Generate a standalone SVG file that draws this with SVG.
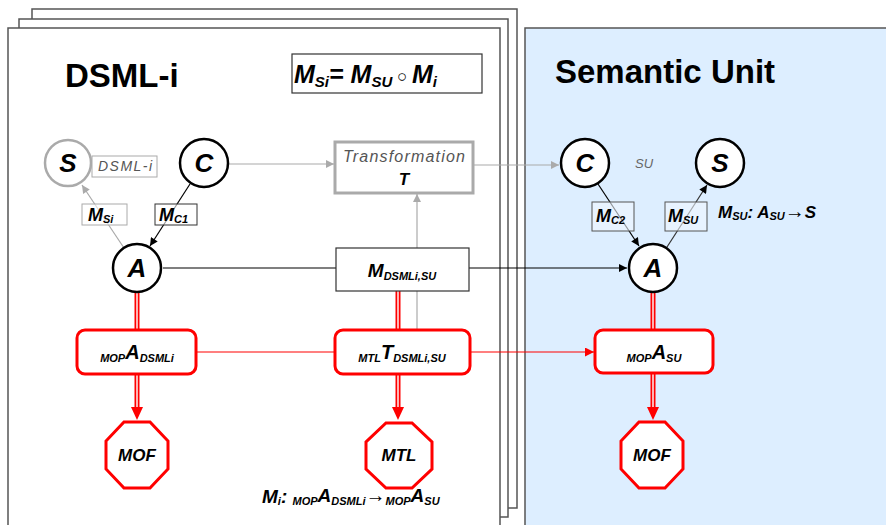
<svg xmlns="http://www.w3.org/2000/svg" width="886" height="525" viewBox="0 0 886 525">
<style>
text{font-family:"Liberation Sans",Arial,sans-serif;}
.bi{font-weight:bold;font-style:italic;fill:#000;}
.it{font-style:italic;}
.title{font-size:33px;font-weight:bold;fill:#000;}
.page{fill:#fff;stroke:#555;stroke-width:1.5;}
.circ{fill:#fff;stroke:#000;stroke-width:2.5;}
.circg{fill:#fff;stroke:#aaa;stroke-width:2.5;}
.lbl{fill:#fff;stroke:#333;stroke-width:1;fill-opacity:0.6;}
.lblg{fill:#fff;stroke:#aaa;stroke-width:1;fill-opacity:0.6;}
.lblb{fill:#f0f7ff;stroke:#555;stroke-width:1;fill-opacity:0.6;}
.rbox{fill:#fff;stroke:#f00;stroke-width:3;}
.oct{fill:#fff;stroke:#f00;stroke-width:3;}
.lk{stroke:#000;stroke-width:1.2;fill:none;}
.lg{stroke:#aaa;stroke-width:1.2;fill:none;}
.lr{stroke:#f00;stroke-width:1.2;fill:none;}
.dr{stroke:#f00;stroke-width:5;fill:none;}
.dw{stroke:#fff;stroke-width:1.4;fill:none;}
</style>
<defs>
<marker id="ak" viewBox="0 0 10 10" refX="10" refY="5" markerWidth="9" markerHeight="8" markerUnits="userSpaceOnUse" orient="auto"><path d="M0,0 L10,5 L0,10 z" fill="#000"/></marker>
<marker id="ag" viewBox="0 0 10 10" refX="10" refY="5" markerWidth="9" markerHeight="8" markerUnits="userSpaceOnUse" orient="auto"><path d="M0,0 L10,5 L0,10 z" fill="#aaa"/></marker>
<marker id="ar" viewBox="0 0 10 10" refX="10" refY="5" markerWidth="10" markerHeight="9" markerUnits="userSpaceOnUse" orient="auto"><path d="M0,0 L10,5 L0,10 z" fill="#f00"/></marker>
</defs>

<g id="background">
<rect class="page" x="32" y="9" width="485" height="499"/>
<rect class="page" x="19" y="19" width="489" height="498"/>
<rect class="page" x="8" y="28" width="492" height="510" stroke="#888"/>
<rect x="525" y="28" width="370" height="510" fill="#ddeeff" stroke="#555" stroke-width="1.5"/>
<text class="title" x="65" y="87">DSML-i</text>
<text class="title" x="555" y="83">Semantic Unit</text>
</g>

<g id="formula">
<rect x="292" y="54" width="190" height="39" fill="#fff" stroke="#333" stroke-width="1.2"/>
<text class="bi" x="294" y="83" font-size="25">M<tspan font-size="15" dy="4">Si</tspan><tspan dy="-4">= M</tspan><tspan font-size="15" dy="4">SU</tspan><tspan dy="-5" font-size="17" font-weight="normal" font-style="normal"> ○ </tspan><tspan dy="1">M</tspan><tspan font-size="15" dy="4">i</tspan></text>
</g>

<g id="connectors">
<line class="lg" x1="228" y1="164" x2="334" y2="164" marker-end="url(#ag)"/>
<line class="lg" x1="473" y1="165" x2="559" y2="165" marker-end="url(#ag)"/>
<line class="lg" x1="417" y1="330" x2="417" y2="194" marker-end="url(#ag)"/>
<line class="lg" x1="124" y1="248" x2="82" y2="185" marker-end="url(#ag)"/>
<line class="lk" x1="190" y1="184" x2="150" y2="246" marker-end="url(#ak)"/>
<line class="lk" x1="598" y1="184" x2="639" y2="246" marker-end="url(#ak)"/>
<line x1="667" y1="247" x2="707" y2="185" stroke="#333" stroke-width="1.2" marker-end="url(#ak)"/>
<line class="lk" x1="163" y1="268" x2="336" y2="268"/>
<line class="lk" x1="469" y1="268" x2="627" y2="268" marker-end="url(#ak)"/>
<line class="lr" x1="196" y1="352" x2="335" y2="352"/>
<line class="lr" x1="470" y1="352" x2="594" y2="352" marker-end="url(#ar)"/>
<line class="dr" x1="137" y1="293" x2="137" y2="330"/><line class="dw" x1="137" y1="293" x2="137" y2="330"/>
<line class="dr" x1="398" y1="291" x2="398" y2="330"/><line class="dw" x1="398" y1="291" x2="398" y2="330"/>
<line class="dr" x1="653" y1="293" x2="653" y2="330"/><line class="dw" x1="653" y1="293" x2="653" y2="330"/>
<line class="dr" x1="137" y1="374" x2="137" y2="408"/><line class="dw" x1="137" y1="374" x2="137" y2="408"/>
<polygon points="131,407 143,407 137,420" fill="#f00"/>
<line class="dr" x1="398" y1="374" x2="398" y2="408"/><line class="dw" x1="398" y1="374" x2="398" y2="408"/>
<polygon points="392,407 404,407 398,420" fill="#f00"/>
<line class="dr" x1="653" y1="373" x2="653" y2="408"/><line class="dw" x1="653" y1="373" x2="653" y2="408"/>
<polygon points="647,407 659,407 653,420" fill="#f00"/>
</g>

<g id="S-dsml">
<circle class="circg" cx="68" cy="163" r="23"/>
<text class="bi" x="68" y="172" font-size="26" text-anchor="middle">S</text>
</g>
<g id="label-dsml">
<rect x="92" y="156" width="65" height="21" fill="#fff" stroke="#aaa" stroke-width="1"/>
<text class="it" x="98" y="171" font-size="14" fill="#555" textLength="54">DSML-i</text>
</g>
<g id="C-dsml">
<circle class="circ" cx="204" cy="163" r="24"/>
<text class="bi" x="204" y="172" font-size="26" text-anchor="middle">C</text>
</g>
<g id="M-Si">
<rect class="lblg" x="82" y="204" width="45" height="21"/>
<text class="bi" x="88" y="221" font-size="18">M<tspan font-size="11" dy="2">Si</tspan></text>
</g>
<g id="M-C1">
<rect class="lbl" x="155" y="204" width="42" height="21"/>
<text class="bi" x="159" y="221" font-size="18">M<tspan font-size="11" dy="2">C1</tspan></text>
</g>
<g id="A-dsml">
<circle class="circ" cx="137" cy="268" r="24"/>
<text class="bi" x="137" y="277" font-size="26" text-anchor="middle">A</text>
</g>
<g id="transformation">
<rect x="335" y="142" width="138" height="51" fill="#fff" stroke="#aaa" stroke-width="3"/>
<text class="it" x="343" y="162" font-size="16" fill="#555" textLength="122">Transformation</text>
<text class="bi" x="404" y="185" font-size="17" text-anchor="middle">T</text>
</g>
<g id="M-DSMLi-SU">
<rect x="336" y="248" width="133" height="43" fill="#fff" stroke="#333" stroke-width="1.2"/>
<text class="bi" x="402" y="277" font-size="19" text-anchor="middle">M<tspan font-size="11" dy="3">DSMLi,SU</tspan></text>
</g>
<g id="C-su">
<circle class="circ" cx="585" cy="163" r="24"/>
<text class="bi" x="585" y="172" font-size="26" text-anchor="middle">C</text>
</g>
<text class="it" x="635" y="168" font-size="13" fill="#666">SU</text>
<g id="S-su">
<circle class="circ" cx="720" cy="163" r="24"/>
<text class="bi" x="720" y="172" font-size="26" text-anchor="middle">S</text>
</g>
<g id="M-C2">
<rect class="lblb" x="592" y="202" width="42" height="29"/>
<text class="bi" x="596" y="222" font-size="18">M<tspan font-size="11" dy="2">C2</tspan></text>
</g>
<g id="M-SU">
<rect class="lblb" x="665" y="202" width="42" height="29"/>
<text class="bi" x="668" y="222" font-size="18">M<tspan font-size="11" dy="2">SU</tspan></text>
</g>
<text class="bi" x="718" y="218" font-size="17">M<tspan font-size="11" dy="2">SU</tspan><tspan dy="-2">: A</tspan><tspan font-size="11" dy="2">SU</tspan><tspan dy="-2" font-size="20" font-weight="normal">→</tspan>S</text>
<g id="A-su">
<circle class="circ" cx="653" cy="268" r="24"/>
<text class="bi" x="653" y="277" font-size="26" text-anchor="middle">A</text>
</g>

<g id="MOP-A-DSMLi">
<rect class="rbox" x="77" y="330" width="119" height="44" rx="8"/>
<text class="bi" x="137" y="362" text-anchor="middle"><tspan font-size="11">MOP</tspan><tspan font-size="20" dy="-3">A</tspan><tspan font-size="11" dy="3">DSMLi</tspan></text>
</g>
<g id="MTL-T">
<rect class="rbox" x="335" y="330" width="135" height="44" rx="8"/>
<text class="bi" x="402" y="362" text-anchor="middle"><tspan font-size="11">MTL</tspan><tspan font-size="20" dy="-3">T</tspan><tspan font-size="11" dy="3">DSMLi,SU</tspan></text>
</g>
<g id="MOP-A-SU">
<rect class="rbox" x="595" y="330" width="118" height="43" rx="8"/>
<text class="bi" x="654" y="362" text-anchor="middle"><tspan font-size="11">MOP</tspan><tspan font-size="20" dy="-3">A</tspan><tspan font-size="11" dy="3">SU</tspan></text>
</g>

<g id="MOF-left">
<polygon class="oct" points="124,422 150,422 168,441 168,469 150,488 124,488 106,469 106,441"/>
<text class="bi" x="137" y="461" font-size="17" text-anchor="middle">MOF</text>
</g>
<g id="MTL">
<polygon class="oct" points="386,423 412,423 432,442 432,469 412,488 386,488 366,469 366,442"/>
<text class="bi" x="399" y="461" font-size="17" text-anchor="middle">MTL</text>
</g>
<g id="MOF-right">
<polygon class="oct" points="639,422 665,422 683,441 683,469 665,488 639,488 621,469 621,441"/>
<text class="bi" x="652" y="461" font-size="17" text-anchor="middle">MOF</text>
</g>
<text class="bi" x="262" y="503" font-size="19">M<tspan font-size="11" dy="2">i</tspan><tspan dy="-2">: </tspan><tspan font-size="11" dy="2">MOP</tspan><tspan font-size="19" dy="-3">A</tspan><tspan font-size="11" dy="3">DSMLi</tspan><tspan font-size="20" font-weight="normal" dy="-3">→</tspan><tspan font-size="11" dy="3">MOP</tspan><tspan font-size="19" dy="-3">A</tspan><tspan font-size="11" dy="3">SU</tspan></text>
</svg>
